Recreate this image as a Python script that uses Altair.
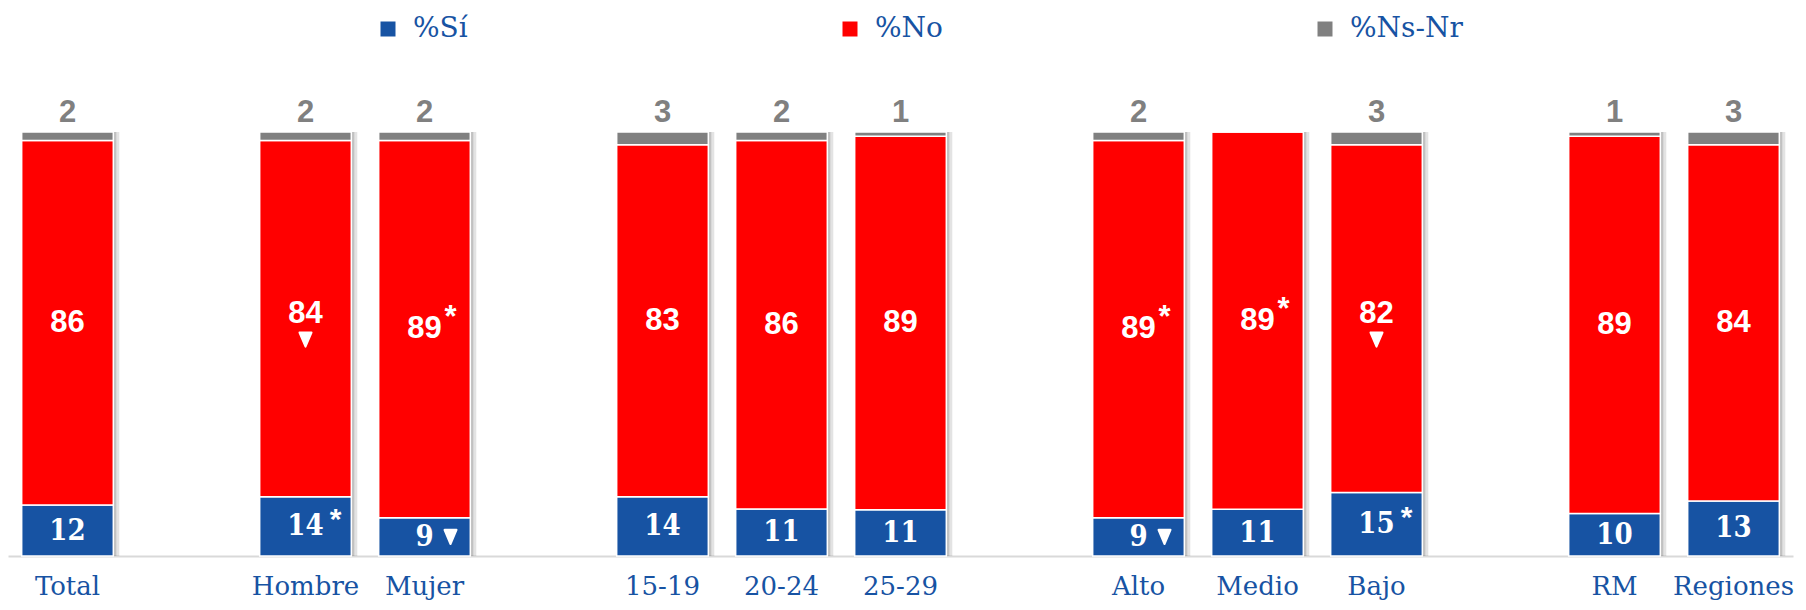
import altair as alt
import pandas as pd

groups = ["Total", "Hombre", "Mujer", "15-19", "20-24", "25-29",
          "Alto", "Medio", "Bajo", "RM", "Regiones"]
domain = ["Total", " ", "Hombre", "Mujer", "  ", "15-19", "20-24", "25-29",
          "   ", "Alto", "Medio", "Bajo", "    ", "RM", "Regiones"]
si = [12, 14, 9, 14, 11, 11, 9, 11, 15, 10, 13]
no = [86, 84, 89, 83, 86, 89, 89, 89, 82, 89, 84]
ns = [2, 2, 2, 3, 2, 1, 2, 0, 3, 1, 3]
si_mark = ["", "*", "▼", "", "", "", "▼", "", "*", "", ""]
no_mark = ["", "▼", "*", "", "", "", "*", "*", "▼", "", ""]
cats = ["%Sí", "%No", "%Ns-Nr"]

BLUE = "#1753A3"
RED = "#FF0000"
GRAY = "#808080"

wide = pd.DataFrame({"group": groups, "si": si, "no": no, "ns": ns,
                     "si_mark": si_mark, "no_mark": no_mark})
long_rows = []
for g, a, b, c in zip(groups, si, no, ns):
    for k, (cat, v) in enumerate(zip(cats, [a, b, c])):
        long_rows.append({"group": g, "cat": cat, "value": v, "ord": k})
long = pd.DataFrame(long_rows)

X = alt.X("group:N",
          scale=alt.Scale(domain=domain, paddingInner=0.23, paddingOuter=0.115),
          axis=alt.Axis(title=None, labelAngle=0, ticks=False, tickSize=0,
                        labelPadding=17, labelFont="DejaVu Serif",
                        labelFontSize=26, labelColor=BLUE, domain=True,
                        domainColor="#D9D9D9", domainWidth=2, grid=False))
YS = alt.Scale(domain=[0, 1], nice=False, zero=True)

base = alt.Chart(wide).transform_calculate(
    tot="datum.si + datum.no + datum.ns",
).transform_calculate(
    si_mid="datum.si/datum.tot/2",
    no_mid="(datum.si + datum.no/2)/datum.tot",
    top="1",
)

shadow1 = base.mark_bar(xOffset=3, color="#000000", opacity=0.15).encode(
    x=X, y=alt.Y("top:Q", scale=YS, axis=None))
shadow2 = base.mark_bar(xOffset=6, color="#000000", opacity=0.11).encode(
    x=X, y=alt.Y("top:Q", scale=YS, axis=None))

bars = alt.Chart(long).mark_bar(stroke="white", strokeWidth=1.5).encode(
    x=X,
    y=alt.Y("value:Q", stack="normalize", scale=YS, axis=None),
    color=alt.Color("cat:N",
                    scale=alt.Scale(domain=cats, range=[BLUE, RED, GRAY]),
                    legend=alt.Legend(title=None, orient="none", direction="horizontal",
                                      legendX=366, legendY=-117, columnPadding=368,
                                      labelOffset=11, labelFont="DejaVu Serif",
                                      labelFontSize=28, labelColor=BLUE,
                                      symbolType="square", symbolSize=225,
                                      symbolStrokeWidth=0, padding=0, labelLimit=300)),
    order=alt.Order("ord:Q", sort="ascending"),
)

si_text = base.mark_text(font="DejaVu Serif Condensed, DejaVu Serif", fontWeight="bold",
                         fontSize=29, color="white", baseline="middle").encode(
    x=X, y=alt.Y("si_mid:Q", scale=YS, axis=None), text="si:Q")
si_star = base.transform_filter("datum.si_mark == '*'").mark_text(
    font="Liberation Sans", fontWeight="bold", fontSize=30, color="white",
    baseline="middle", dx=30, dy=-6).encode(
    x=X, y=alt.Y("si_mid:Q", scale=YS, axis=None), text="si_mark:N")
TRI = "M-0.85,-1L0.85,-1L0,1Z"
si_tri = base.transform_filter("datum.si_mark == '▼'").mark_point(
    shape=TRI, size=200, filled=True, fill="white", stroke="white", strokeWidth=2,
    strokeJoin="round", opacity=1, xOffset=26).encode(
    x=X, y=alt.Y("si_mid:Q", scale=YS, axis=None))

no_text = base.transform_filter("datum.no_mark != '▼'").mark_text(
    font="Liberation Sans", fontWeight="bold", fontSize=31, color="white",
    baseline="middle").encode(
    x=X, y=alt.Y("no_mid:Q", scale=YS, axis=None), text="no:Q")
no_text2 = base.transform_filter("datum.no_mark == '▼'").mark_text(
    font="Liberation Sans", fontWeight="bold", fontSize=31, color="white",
    baseline="middle", dy=-5).encode(
    x=X, y=alt.Y("no_mid:Q", scale=YS, axis=None), text="no:Q")
no_star = base.transform_filter("datum.no_mark == '*'").mark_text(
    font="Liberation Sans", fontWeight="bold", fontSize=31, color="white",
    baseline="middle", dx=26, dy=-11).encode(
    x=X, y=alt.Y("no_mid:Q", scale=YS, axis=None), text="no_mark:N")
no_tri = base.transform_filter("datum.no_mark == '▼'").mark_point(
    shape=TRI, size=200, filled=True, fill="white", stroke="white", strokeWidth=2,
    strokeJoin="round", opacity=1, yOffset=21).encode(
    x=X, y=alt.Y("no_mid:Q", scale=YS, axis=None))

ns_text = base.transform_filter("datum.ns > 0").mark_text(
    font="Liberation Sans Narrow, Liberation Sans", fontWeight="bold", fontSize=31,
    color=GRAY, baseline="alphabetic", dy=-10).encode(
    x=X, y=alt.Y("top:Q", scale=YS, axis=None), text="ns:Q")

chart = alt.layer(shadow1, shadow2, bars, si_text, si_star, si_tri,
                  no_text, no_text2, no_star, no_tri, ns_text).properties(
    width=1785, height=424,
    autosize=alt.AutoSizeParams(type="none"),
    padding={"left": 0, "right": 5, "top": 124, "bottom": 46},
).configure_view(stroke=None)

chart.save("out.html", embed_options={"renderer": "svg", "actions": False})
